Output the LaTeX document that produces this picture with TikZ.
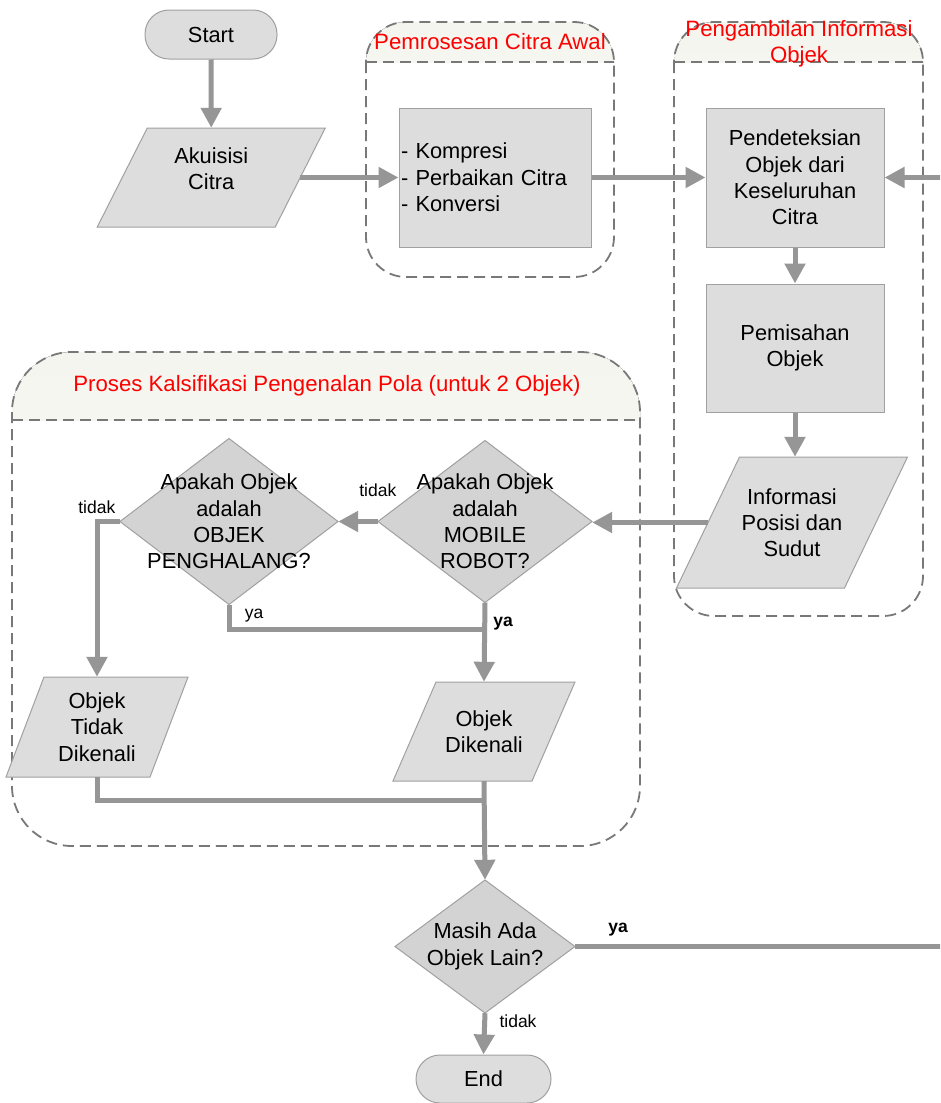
\documentclass[tikz,border=0pt]{standalone}
\usepackage{fontspec}
\setmainfont{Liberation Sans}
\usetikzlibrary{arrows.meta,calc}

\definecolor{shapefill}{RGB}{221,221,221}
\definecolor{diafill}{RGB}{211,211,211}
\definecolor{shapeline}{RGB}{160,160,160}
\definecolor{flow}{RGB}{150,150,150}
\definecolor{grpline}{RGB}{120,120,120}
\definecolor{hdrtop}{RGB}{244,245,238}

\newcommand{\mainsize}{\fontsize{21.8}{26.3}\selectfont}
\newcommand{\lblsize}{\fontsize{17.5}{20}\selectfont}

% parallelogram: [text offset], name, centre x, centre y, side width, height, slant, text
\newcommand{\pgram}[8][0]{%
  \path[shp] ({#3-#5/2+#7/2},{#4-#6/2}) -- ({#3+#5/2+#7/2},{#4-#6/2})
    -- ({#3+#5/2-#7/2},{#4+#6/2}) -- ({#3-#5/2-#7/2},{#4+#6/2}) -- cycle;
  \node[txt, minimum width=#5, minimum height=#6] (#2) at (#3,#4) {};
  \node[txt] (#2-text) at (#3,{#4+#1}) {#8};
}
% decision diamond: name, centre x, centre y, width, height, text
\newcommand{\dmnd}[6]{%
  \path[dshp] ({#2-#4/2},#3) -- (#2,{#3-#5/2}) -- ({#2+#4/2},#3)
    -- (#2,{#3+#5/2}) -- cycle;
  \node[txt, minimum width=#4, minimum height=#5] (#1) at (#2,#3) {#6};
}

\begin{document}
\begin{tikzpicture}[x=1pt,y=-1pt,
  txt/.style={align=center, font=\mainsize, inner sep=0pt, text=black},
  shp/.style={fill=shapefill, draw=shapeline, line width=1pt},
  dshp/.style={fill=diafill, draw=shapeline, line width=1pt},
  box/.style={shp, rectangle, txt},
  pill/.style={shp, rectangle, rounded corners=24pt, txt},
  flowline/.style={draw=flow, line width=5pt, -{Triangle[width=20pt,length=20pt]}},
  plainline/.style={draw=flow, line width=5pt},
  grp/.style={draw=grpline, line width=1.8pt, dash pattern=on 11pt off 6pt},
  hdr/.style={top color=hdrtop, bottom color=white},
  title/.style={text=red, font=\fontsize{22.2}{26.3}\selectfont, align=center, inner sep=0pt},
  lbl/.style={font=\lblsize, inner sep=0pt},
  lblb/.style={font=\lblsize\bfseries, inner sep=0pt}]

\useasboundingbox (0,0) rectangle (940,1103);
\fill[white] (0,0) rectangle (940,1103);
\clip (0,0) rectangle (940,1103);

% ---- swimlane groups ----
% Pemrosesan Citra Awal
\begin{scope}
  \clip (360,15) rectangle (620,62);
  \fill[hdr, rounded corners=40] (366,22) rectangle (614,277);
\end{scope}
\draw[grp, rounded corners=40] (366,22) rectangle (614,277);
\draw[grp] (366,62) -- (614,62);
\node[title] (t1) at (490,42) {Pemrosesan Citra Awal};

% Pengambilan Informasi Objek
\begin{scope}
  \clip (668,15) rectangle (930,62);
  \fill[hdr, rounded corners=40] (674,22) rectangle (923,616);
\end{scope}
\draw[grp, rounded corners=40] (674,22) rectangle (923,616);
\draw[grp] (674,62) -- (923,62);
\node[title] (t2) at (799,44) {Pengambilan Informasi\\Objek};

% Proses klasifikasi
\begin{scope}
  \clip (5,345) rectangle (648,420);
  \fill[hdr, rounded corners=60] (12,352) rectangle (640,846);
\end{scope}
\draw[grp, rounded corners=60] (12,352) rectangle (640,846);
\draw[grp] (12,420) -- (640,420);
\node[title] (t3) at (327,386) {Proses Kalsifikasi Pengenalan Pola (untuk 2 Objek)};

% ---- flowchart elements ----
\node[pill, minimum width=132, minimum height=49] (start) at (211,34.5) {Start};
\pgram[-9]{aku}{211.25}{177.5}{178}{99}{50}{Akuisisi\\Citra}
\node[box, minimum width=192, minimum height=139, text width=188, inner xsep=2pt, align=left]
  (kom) at (495,177.5) {- Kompresi\\- Perbaikan Citra\\- Konversi};
\node[box, minimum width=178, minimum height=139] (det) at (795,177.5)
  {Pendeteksian\\Objek dari\\Keseluruhan\\Citra};
\node[box, minimum width=178, minimum height=128] (pem) at (795,348) {Pemisahan\\Objek};
\pgram{info}{792}{522.5}{168}{131}{63}{Informasi\\Posisi dan\\Sudut}
\dmnd{mob}{485}{521.5}{214}{162}{Apakah Objek\\adalah\\MOBILE\\ROBOT?}
\dmnd{peng}{229}{521.5}{218}{166}{Apakah Objek\\adalah\\OBJEK\\PENGHALANG?}
\pgram{tdk}{97}{727}{144}{100}{38}{Objek\\Tidak\\Dikenali}
\pgram{dik}{484}{731.5}{139}{99}{43}{Objek\\Dikenali}
\dmnd{mas}{485}{946.5}{180}{133}{Masih Ada\\Objek Lain?}
\node[pill, minimum width=135, minimum height=48] (end) at (483.5,1079) {End};

\coordinate (j1) at (485,629);
\coordinate (j2) at (485,800);
\coordinate (rt) at (947,0);

% ---- connectors ----
\draw[flowline] (start.south) -- (aku.north);
\draw[flowline] (aku.east) -- (kom.west);
\draw[flowline] (kom.east) -- (det.west);
\draw[flowline] (det.south) -- (pem.north);
\draw[flowline] (pem.south) -- (pem.south |- info.north);
\draw[flowline] (info.west) -- (info.west -| mob.east);
\draw[flowline] (mob.west) -- (peng.east);
\draw[flowline] (peng.west) -| (tdk.north);
\draw[plainline] (peng.south) |- (j1);
\draw[flowline] (mob.south) -- (dik.north);
\draw[plainline] (tdk.south) |- (j2);
\draw[flowline] (dik.south) -- (mas.north);
\draw[flowline] (mas.east) -- (rt |- mas.east) -- (rt |- det.east) -- (det.east);
\draw[flowline] (mas.south) -- (end.north);

% ---- branch labels ----
\node[lbl]  (l1) at ($(mob.west)+(0,-31)$) {tidak};
\node[lbl]  (l2) at ($(peng.west)+(-23,-14)$) {tidak};
\node[lbl]  (l3) at ($(peng.south)+(25,11)$) {ya};
\node[lblb] (l4) at ($(mob.south)+(18,21)$) {ya};
\node[lblb] (l5) at ($(mas.east)+(43,-16.5)$) {ya};
\node[lbl]  (l6) at ($(mas.south)+(33,8)$) {tidak};
\end{tikzpicture}
\end{document}
